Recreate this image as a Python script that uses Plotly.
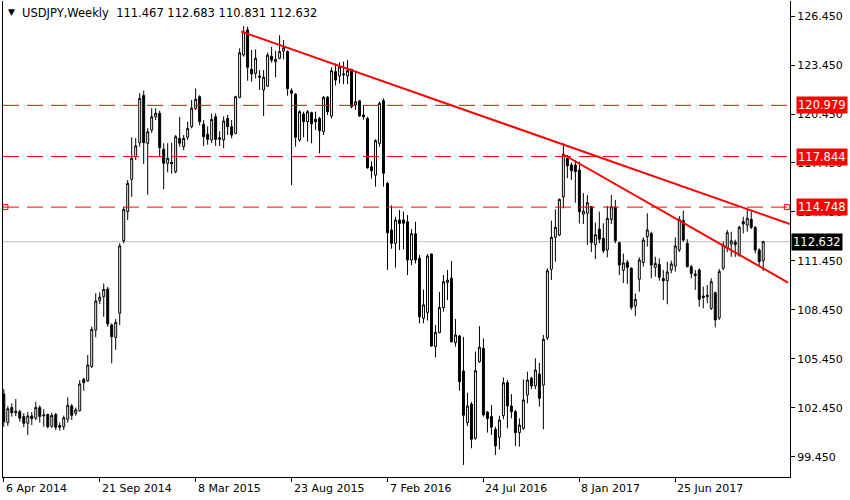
import pandas as pd
import plotly.graph_objects as go

# weekly USDJPY candles, first week starts 6 Apr 2014
first_week = "2014-04-06"

opens = [
    103.30, 101.55, 102.47, 102.15, 102.22, 101.92, 101.51, 101.96, 101.82, 102.47,
    101.97, 102.05, 101.33, 102.05, 101.37, 101.30, 101.75, 102.57, 102.12, 102.28,
    104.20, 104.10, 104.98, 107.22, 109.02, 109.26, 109.73, 107.53, 106.77, 108.25,
    112.69, 114.47, 116.45, 117.84, 118.69, 121.59, 118.65, 119.47, 120.28, 120.49,
    118.29, 117.43, 117.49, 116.92, 118.96, 118.45, 119.02, 119.67, 120.80, 121.51,
    119.82, 119.21, 118.86, 120.28, 119.00, 118.86, 120.18, 119.67, 119.27, 121.47,
    124.06, 125.60, 123.19, 122.94, 122.78, 121.92, 122.16, 123.99, 123.65, 123.86,
    124.30, 124.27, 121.88, 121.67, 118.86, 120.45, 119.98, 120.53, 120.12, 120.18,
    119.37, 121.47, 120.33, 123.04, 122.78, 122.84, 122.78, 123.19, 121.00, 121.26,
    120.39, 120.18, 117.22, 116.71, 118.65, 121.26, 116.20, 113.35, 112.53, 113.96,
    113.96, 113.85, 111.51, 113.12, 111.61, 107.94, 108.30, 111.88, 106.20, 107.06,
    108.60, 110.14, 110.39, 106.45, 106.86, 104.71, 101.55, 102.69, 100.59, 105.28,
    106.10, 102.20, 101.92, 101.14, 100.65, 101.98, 104.00, 102.57, 102.22, 100.94,
    101.20, 103.24, 104.27, 103.80, 104.53, 103.85, 106.74, 110.94, 112.90, 113.04,
    115.38, 117.73, 117.33, 117.33, 117.02, 114.31, 114.37, 114.78, 112.45, 113.40,
    112.84, 112.12, 113.99, 114.74, 112.57, 110.88, 111.37, 111.00, 108.69, 110.33,
    111.35, 112.94, 113.14, 111.06, 111.24, 110.37, 110.24, 110.90, 111.14, 112.12,
    113.92, 112.53, 111.10, 110.65, 110.90, 109.30, 109.26, 108.55, 109.51, 107.96,
    111.00, 112.22, 112.49, 112.60, 111.80, 113.86, 113.65, 114.00, 113.51, 112.12,
    111.467,
]

highs = [
    103.60, 102.55, 102.73, 103.00, 102.33, 102.13, 102.20, 102.20, 102.83, 102.61,
    102.37, 102.10, 102.15, 102.15, 101.55, 101.98, 103.10, 102.69, 102.47, 104.16,
    104.30, 105.69, 107.42, 109.47, 109.53, 110.07, 109.87, 107.63, 107.90, 112.53,
    114.77, 116.41, 119.02, 118.98, 121.72, 121.88, 119.60, 120.80, 120.80, 120.65,
    118.66, 118.66, 118.70, 119.16, 120.28, 119.16, 119.98, 121.31, 122.02, 121.60,
    120.08, 119.70, 120.47, 120.49, 119.40, 120.30, 120.39, 120.08, 121.57, 124.47,
    125.83, 125.80, 124.37, 124.41, 123.14, 123.14, 124.20, 124.57, 124.30, 125.27,
    124.97, 124.35, 122.02, 121.72, 120.69, 120.59, 120.69, 120.59, 120.59, 120.28,
    121.55, 121.55, 123.31, 123.53, 123.61, 123.66, 123.76, 123.20, 123.00, 121.30,
    121.00, 120.28, 117.55, 118.90, 121.20, 121.40, 116.30, 114.85, 114.16, 114.57,
    114.47, 114.26, 113.40, 113.85, 111.81, 109.70, 111.88, 111.90, 107.53, 109.56,
    110.59, 110.90, 111.45, 107.90, 106.92, 106.80, 103.38, 102.82, 105.90, 107.46,
    106.70, 102.26, 102.63, 101.30, 101.96, 104.32, 104.16, 103.30, 102.33, 101.81,
    104.20, 104.67, 104.37, 105.49, 105.22, 106.92, 111.00, 113.92, 114.61, 115.28,
    118.66, 117.94, 117.47, 117.63, 117.53, 115.60, 115.49, 114.82, 113.80, 114.47,
    113.76, 114.82, 115.49, 115.19, 112.63, 111.90, 111.51, 111.06, 109.47, 111.67,
    112.90, 114.37, 113.24, 111.71, 111.61, 110.90, 111.40, 111.47, 112.90, 114.20,
    114.53, 112.78, 111.20, 110.90, 111.00, 109.88, 109.98, 110.39, 109.57, 110.96,
    112.63, 113.35, 113.24, 112.75, 113.61, 114.16, 114.67, 114.47, 113.58, 112.23,
    112.683,
]

lows = [
    101.30, 101.35, 101.92, 101.95, 101.60, 101.27, 100.79, 101.40, 101.71, 101.55,
    101.30, 101.20, 101.22, 101.10, 101.06, 101.10, 101.55, 101.71, 101.97, 102.22,
    103.50, 104.06, 104.90, 106.77, 108.81, 108.03, 107.42, 105.18, 106.00, 107.53,
    112.53, 113.96, 115.38, 117.63, 118.45, 117.39, 115.50, 119.30, 120.08, 117.83,
    115.84, 116.88, 116.80, 116.82, 118.45, 118.24, 118.86, 119.57, 120.69, 119.76,
    118.49, 118.57, 118.67, 118.49, 118.49, 118.35, 119.16, 118.96, 119.20, 121.41,
    123.96, 122.49, 122.43, 122.63, 121.92, 120.33, 122.10, 123.60, 122.70, 123.80,
    123.80, 121.57, 116.10, 118.45, 118.76, 119.02, 118.76, 118.65, 119.47, 118.04,
    119.16, 120.39, 120.18, 122.20, 122.33, 122.27, 122.27, 120.80, 120.70, 120.28,
    120.10, 117.10, 116.50, 116.00, 118.45, 116.00, 110.90, 112.20, 111.05, 112.12,
    112.16, 110.59, 111.20, 111.30, 107.63, 107.63, 107.80, 106.20, 105.55, 107.02,
    108.35, 109.06, 106.45, 106.20, 103.50, 98.96, 101.34, 99.98, 100.50, 105.22,
    101.91, 100.94, 100.79, 99.57, 99.92, 101.75, 101.20, 101.81, 100.12, 100.08,
    101.10, 102.73, 103.60, 103.60, 102.53, 101.14, 106.60, 110.28, 111.40, 112.98,
    114.67, 116.52, 116.41, 115.02, 113.75, 113.71, 112.43, 112.00, 111.57, 112.53,
    111.94, 111.67, 113.71, 112.53, 110.59, 110.10, 110.04, 108.45, 108.08, 109.57,
    111.10, 112.33, 110.39, 110.49, 110.24, 109.06, 108.80, 110.70, 110.80, 112.00,
    112.63, 111.06, 110.39, 109.67, 108.65, 108.55, 108.86, 108.45, 107.39, 107.84,
    110.90, 112.00, 111.71, 111.70, 111.71, 113.14, 113.24, 113.40, 111.92, 111.20,
    110.831,
]

closes = [
    101.60, 102.40, 102.15, 102.25, 101.82, 101.51, 101.96, 101.80, 102.47, 101.93,
    102.02, 101.30, 101.99, 101.27, 101.27, 101.85, 102.61, 102.00, 102.33, 103.92,
    104.00, 105.08, 107.26, 109.00, 109.23, 109.71, 107.59, 106.81, 107.69, 112.37,
    114.61, 116.20, 117.74, 118.50, 121.41, 118.69, 119.36, 120.28, 120.49, 118.39,
    117.43, 117.74, 117.40, 119.06, 118.66, 118.96, 119.57, 120.80, 121.35, 119.98,
    119.06, 118.90, 120.12, 118.90, 118.90, 120.02, 119.67, 119.16, 121.51, 124.20,
    125.49, 123.31, 122.90, 123.86, 122.70, 122.70, 124.06, 123.75, 123.80, 124.27,
    124.50, 122.00, 121.72, 119.02, 120.59, 119.98, 120.59, 119.84, 119.98, 119.43,
    121.47, 120.59, 123.10, 122.53, 123.33, 122.90, 123.10, 120.90, 121.20, 120.33,
    120.28, 117.16, 116.98, 118.82, 121.10, 116.82, 113.18, 112.53, 113.96, 113.75,
    113.76, 111.51, 113.12, 111.51, 108.03, 108.76, 111.75, 106.24, 107.08, 108.60,
    110.18, 110.28, 106.51, 106.92, 104.06, 102.00, 102.57, 100.53, 104.73, 106.17,
    102.02, 101.80, 101.27, 100.12, 101.71, 103.99, 102.57, 102.22, 100.94, 101.40,
    102.94, 104.16, 103.80, 104.77, 103.04, 106.65, 110.85, 112.90, 113.51, 115.22,
    117.99, 117.28, 116.98, 116.92, 114.47, 114.50, 115.02, 112.57, 113.06, 112.78,
    112.08, 114.06, 114.77, 112.69, 111.20, 111.33, 111.06, 108.61, 109.10, 111.51,
    112.73, 113.35, 111.20, 111.30, 110.45, 110.24, 110.78, 111.27, 112.37, 114.00,
    112.73, 111.10, 110.69, 110.57, 109.10, 109.22, 109.35, 110.18, 107.84, 110.80,
    112.43, 113.18, 112.68, 112.45, 113.51, 113.71, 114.06, 113.51, 112.12, 111.41,
    112.632,
]

tick_dates = ["2014-04-06", "2014-09-21", "2015-03-08", "2015-08-23",
              "2016-02-07", "2016-07-24", "2017-01-08", "2017-06-25"]
tick_labels = ["6 Apr 2014", "21 Sep 2014", "8 Mar 2015", "23 Aug 2015",
               "7 Feb 2016", "24 Jul 2016", "8 Jan 2017", "25 Jun 2017"]

# horizontal levels drawn on the chart
levels = [120.979, 117.844, 114.748]
# trend lines, (bar index, price) of the two ends
trend_upper_x = [59.4, 196.7]
trend_upper_y = [125.50, 113.71]
trend_lower_x = [140.0, 196.2]
trend_lower_y = [117.97, 110.13]

weeks = pd.date_range(first_week, periods=len(closes), freq="7D")
idx = list(range(len(closes)))
tick_idx = [int(weeks.get_loc(pd.Timestamp(d))) for d in tick_dates]
last_close = closes[-1]

font = "DejaVu Sans"
x_range = [-0.2, 196.7]

fig = go.Figure()

fig.add_trace(go.Candlestick(
    x=idx, open=opens, high=highs, low=lows, close=closes,
    increasing=dict(line=dict(color="black", width=1), fillcolor="white"),
    decreasing=dict(line=dict(color="black", width=1), fillcolor="black"),
    whiskerwidth=0, hoverinfo="skip", showlegend=False,
))

# little handles on the selected level
fig.add_trace(go.Scatter(
    x=[x_range[0] + 0.6, x_range[1] - 0.8], y=[levels[2], levels[2]],
    mode="markers", hoverinfo="skip", showlegend=False,
    marker=dict(symbol="square-open", size=5, color="red", line=dict(width=1)),
))

# bid line
fig.add_shape(type="line", xref="paper", x0=0, x1=1, y0=last_close, y1=last_close,
              line=dict(color="#c0c0c0", width=1), layer="below")

for lv in levels:
    fig.add_shape(type="line", xref="paper", x0=0, x1=1, y0=lv, y1=lv,
                  line=dict(color="red", width=1, dash="16px,8px"))

for tx, ty in [(trend_upper_x, trend_upper_y), (trend_lower_x, trend_lower_y)]:
    fig.add_shape(type="line", x0=tx[0], x1=tx[1], y0=ty[0], y1=ty[1],
                  line=dict(color="red", width=2))

# price tags on the right scale
for lv in levels:
    fig.add_annotation(xref="paper", x=1, xanchor="left", xshift=6, y=lv,
                       text="%.3f" % lv, showarrow=False, bgcolor="red",
                       borderpad=1, font=dict(family=font, size=11.5, color="white"))
fig.add_annotation(xref="paper", x=1, xanchor="left", xshift=1, y=last_close,
                   text="%.3f" % last_close, showarrow=False, bgcolor="black",
                   borderpad=1, font=dict(family=font, size=11.5, color="white"))

# date labels start at their tick
for ti, tl in zip(tick_idx, tick_labels):
    fig.add_annotation(x=ti, xanchor="left", yref="paper", y=0, yanchor="top",
                       yshift=-3, text=tl, showarrow=False,
                       font=dict(family=font, size=11, color="black"))

fig.add_annotation(xref="paper", yref="paper", x=0, xshift=3, y=1, yshift=-4,
                   xanchor="left", yanchor="top", showarrow=False,
                   text="▼", font=dict(family=font, size=9, color="black"))
fig.add_annotation(xref="paper", yref="paper", x=0, xshift=17, y=1, yshift=-3,
                   xanchor="left", yanchor="top", showarrow=False,
                   text="USDJPY,Weekly  %.3f %.3f %.3f %.3f" % (opens[-1], highs[-1], lows[-1], closes[-1]),
                   font=dict(family=font, size=11.5, color="black"))

fig.update_layout(
    width=850, height=500,
    margin=dict(l=3, r=60, t=1, b=23),
    paper_bgcolor="white", plot_bgcolor="white",
    showlegend=False, hovermode=False,
    font=dict(family=font, size=11, color="black"),
    xaxis=dict(range=x_range, rangeslider=dict(visible=False),
               showgrid=False, zeroline=False,
               showline=True, linecolor="black", linewidth=1,
               ticks="outside", ticklen=4, tickcolor="black",
               tickvals=tick_idx, ticktext=[""] * len(tick_idx)),
    yaxis=dict(side="right", range=[98.22, 127.37],
               showgrid=False, zeroline=False,
               showline=True, mirror=True, linecolor="black", linewidth=1,
               ticks="outside", ticklen=4, tickcolor="black",
               tick0=99.45, dtick=3, tickformat=".3f",
               tickfont=dict(family=font, size=11, color="black")),
)

# drop the default page margin so the figure sits at the window corner
fig.write_html("out.html", config={"displayModeBar": False},
               post_script="document.body.style.margin='0';")
